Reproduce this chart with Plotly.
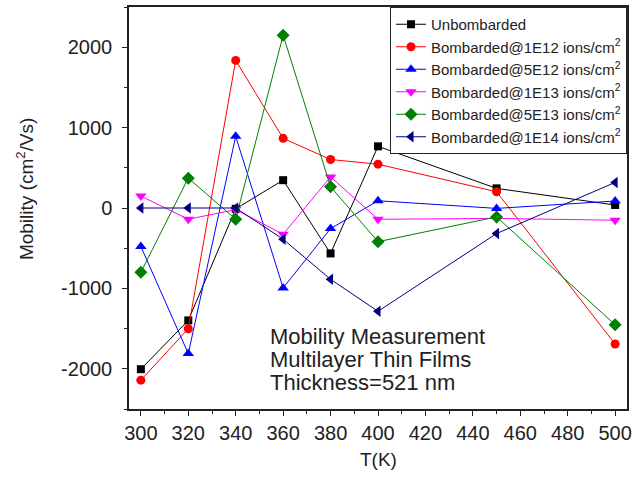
import plotly.graph_objects as go

# Hall mobility versus temperature for each bombardment dose
temps = [300, 320, 340, 360, 380, 400, 450, 500]
unbombarded = [-2005, -1398, -10, 346, -565, 767, 244, 37]
bomb_1e12 = [-2141, -1502, 1836, 866, 603, 545, 202, -1692]
bomb_5e12 = [-479, -1811, 891, -994, -256, 90, -5, 87]
bomb_1e13 = [149, -140, -20, -326, 387, -140, -130, -152]
bomb_5e13 = [-800, 371, -140, 2150, 264, -419, -111, -1452]
bomb_1e14 = [0, 0, 0, -388, -887, -1285, -318, 318]

x_ticks = [300, 320, 340, 360, 380, 400, 420, 440, 460, 480, 500]
y_ticks = [-2000, -1000, 0, 1000, 2000]
y_tick_labels = ["-2000", "-1000", "0", "1000", "2000"]

series_names = [
    "Unbombarded",
    "Bombarded@1E12 ions/cm<sup>2</sup>",
    "Bombarded@5E12 ions/cm<sup>2</sup>",
    "Bombarded@1E13 ions/cm<sup>2</sup>",
    "Bombarded@5E13 ions/cm<sup>2</sup>",
    "Bombarded@1E14 ions/cm<sup>2</sup>",
]
series_values = [unbombarded, bomb_1e12, bomb_5e12, bomb_1e13, bomb_5e13, bomb_1e14]
colors = ["#000000", "#ff0000", "#0000ff", "#ff00ff", "#008000", "#000080"]
symbols = ["square", "circle", "triangle-up", "triangle-down", "diamond", "triangle-left"]
sizes = [8, 9, 10, 10, 10, 10]

FONT = "Liberation Sans, Arial, sans-serif"
INK = "#222222"

fig = go.Figure()
for name, vals, col, sym, sz in zip(series_names, series_values, colors, symbols, sizes):
    fig.add_trace(go.Scatter(
        x=temps, y=vals, name=name, mode="lines+markers",
        line=dict(color=col, width=1),
        marker=dict(symbol=sym, size=sz, color=col, line=dict(width=0)),
    ))

axis_common = dict(
    showgrid=False, zeroline=False, showline=True, mirror=True,
    linecolor=INK, linewidth=1.5,
    ticks="outside", ticklen=5, tickwidth=1.2, tickcolor=INK,
    tickfont=dict(family=FONT, size=20, color=INK),
)

fig.update_xaxes(range=[295, 505], tickmode="array", tickvals=x_ticks,
                 minor=dict(dtick=10, tick0=300, ticks="outside", ticklen=3,
                            tickcolor=INK, tickwidth=1),
                 **axis_common)
fig.update_yaxes(range=[-2500, 2500], tickmode="array", tickvals=y_ticks,
                 ticktext=y_tick_labels, ticklabelstandoff=6,
                 minor=dict(dtick=500, tick0=0, ticks="outside", ticklen=3,
                            tickcolor=INK, tickwidth=1),
                 **axis_common)

annotations = [
    dict(text="T(K)", x=0.5, y=-0.125, xref="paper", yref="paper",
         xanchor="center", yanchor="middle", showarrow=False,
         font=dict(family=FONT, size=19, color=INK)),
    dict(text="Mobility (cm<sup>2</sup>/Vs)", x=-0.21, y=0.548, xref="paper", yref="paper",
         xanchor="center", yanchor="middle", textangle=-90, showarrow=False,
         font=dict(family=FONT, size=19, color=INK)),
]
for line, ypix in zip(["Mobility Measurement", "Multilayer Thin Films", "Thickness=521 nm"],
                      [336, 359, 382]):
    annotations.append(dict(
        text=line, x=(269 - 129) / 500, y=(409 - ypix) / 404, xref="paper", yref="paper",
        xanchor="left", yanchor="middle", showarrow=False,
        font=dict(family=FONT, size=22, color=INK)))

fig.update_layout(
    width=637, height=483,
    margin=dict(l=129, r=8, t=5, b=74),
    paper_bgcolor="white", plot_bgcolor="white",
    showlegend=True,
    legend=dict(x=1, y=1, xanchor="right", yanchor="top",
                bgcolor="white", bordercolor=INK, borderwidth=1,
                font=dict(family=FONT, size=15, color=INK),
                itemwidth=30, tracegroupgap=0),
    annotations=annotations,
)

fig.write_html("out.html")
